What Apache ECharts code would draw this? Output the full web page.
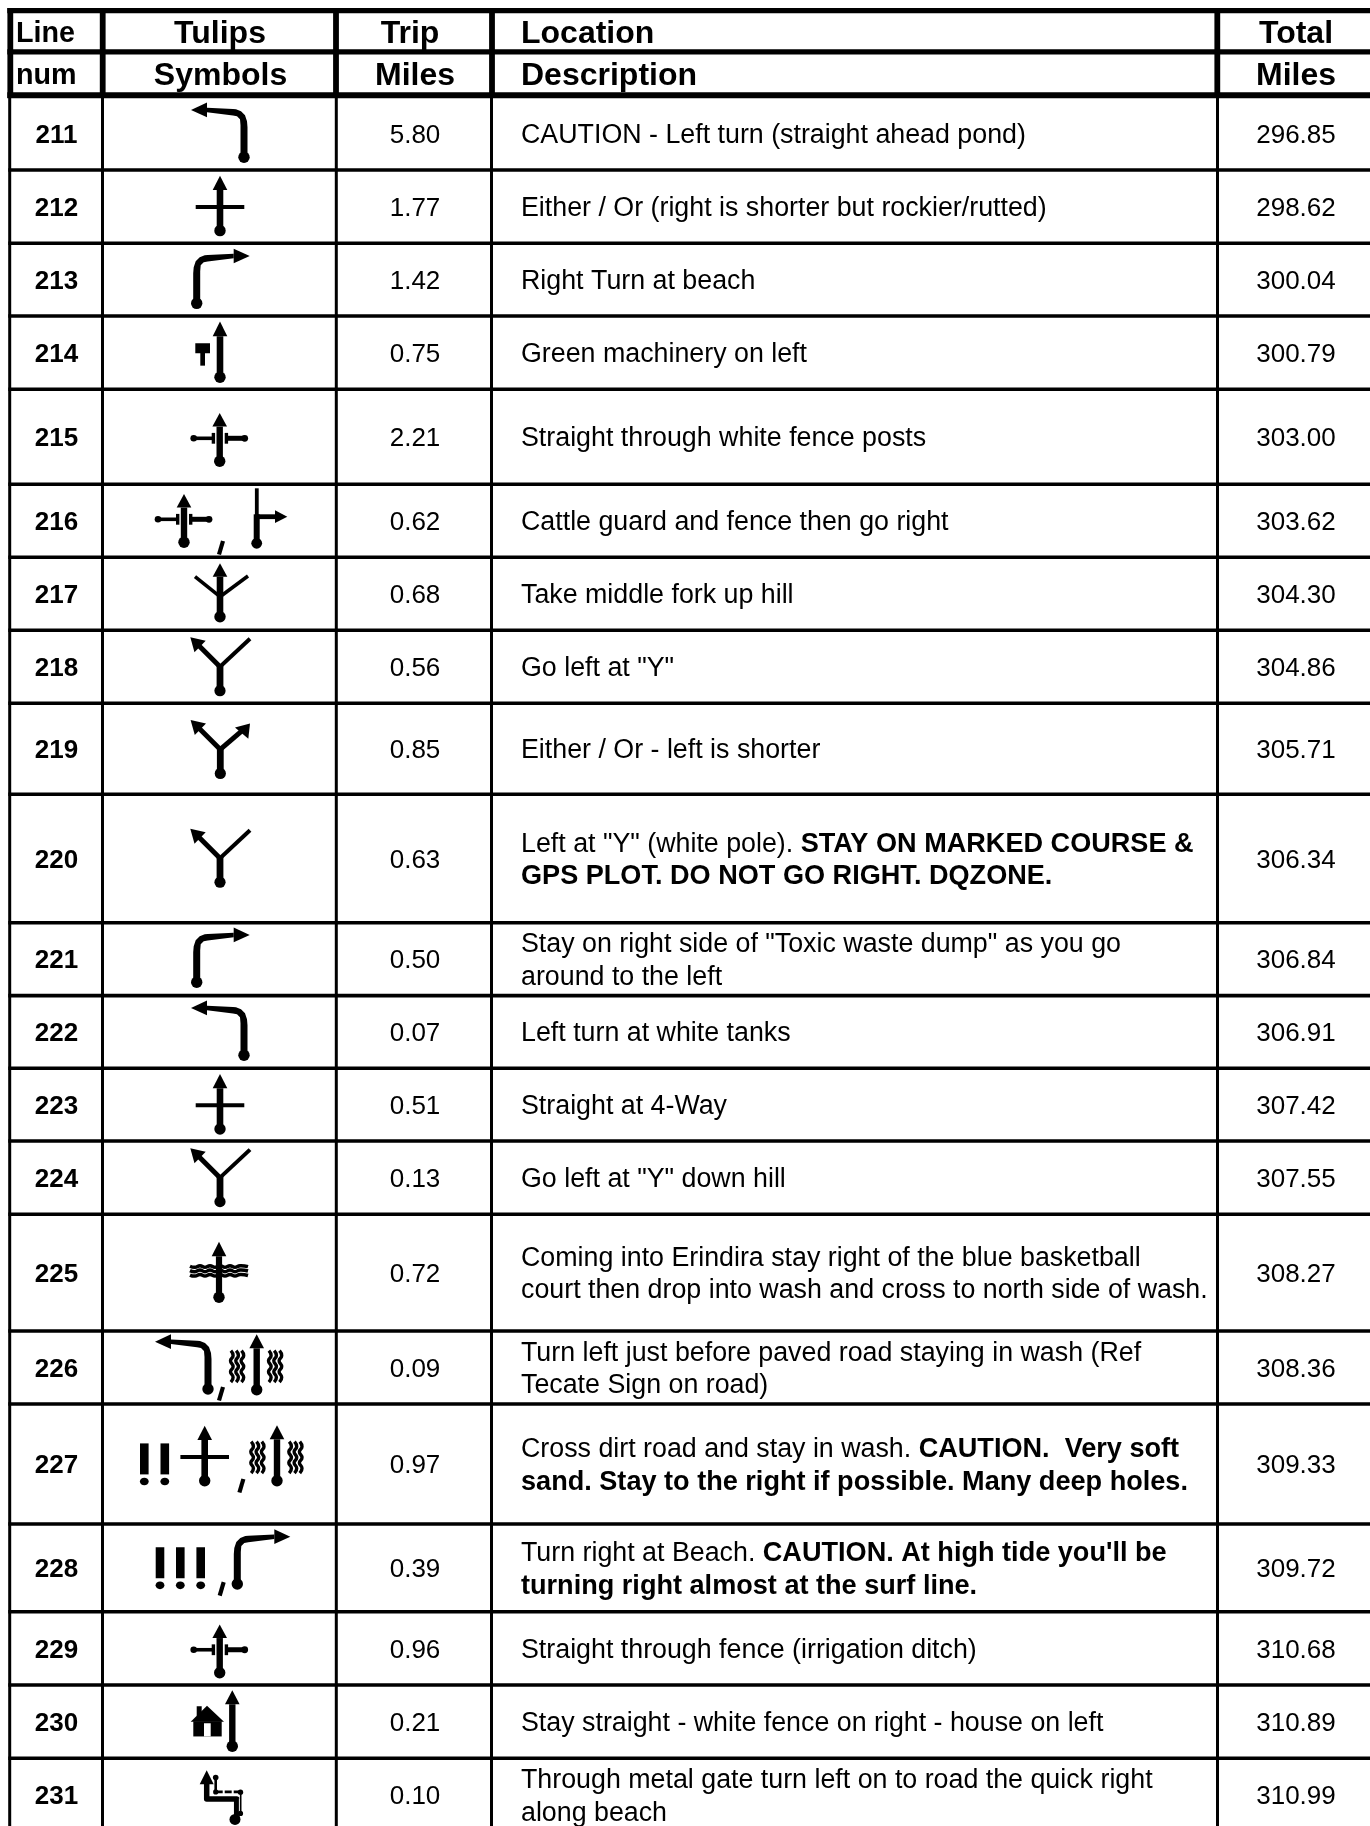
<!DOCTYPE html>
<html>
<head>
<meta charset="utf-8">
<title>Roadbook tulips</title>
<style>
  html, body { margin: 0; padding: 0; background: #fff; }
  #main { width: 1370px; height: 1826px; }
</style>
<script src="https://cdn.jsdelivr.net/npm/echarts@6/dist/echarts.min.js"></script>
</head>
<body>
<div id="main"></div>
<script>
// table content
var headerTop = ['Line', 'Tulips', 'Trip', 'Location', 'Total'];
var headerBottom = ['num', 'Symbols', 'Miles', 'Description', 'Miles'];
var lineNums = ['211', '212', '213', '214', '215', '216', '217', '218', '219', '220', '221',
    '222', '223', '224', '225', '226', '227', '228', '229', '230', '231'];
var tripMiles = ['5.80', '1.77', '1.42', '0.75', '2.21', '0.62', '0.68', '0.56', '0.85', '0.63', '0.50',
    '0.07', '0.51', '0.13', '0.72', '0.09', '0.97', '0.39', '0.96', '0.21', '0.10'];
var totalMiles = ['296.85', '298.62', '300.04', '300.79', '303.00', '303.62', '304.30', '304.86', '305.71', '306.34', '306.84',
    '306.91', '307.42', '307.55', '308.27', '308.36', '309.33', '309.72', '310.68', '310.89', '310.99'];
var descriptions = [
    'CAUTION - Left turn (straight ahead pond)',
    'Either / Or (right is shorter but rockier/rutted)',
    'Right Turn at beach',
    'Green machinery on left',
    'Straight through white fence posts',
    'Cattle guard and fence then go right',
    'Take middle fork up hill',
    'Go left at "Y"',
    'Either / Or - left is shorter',
    'Left at "Y" (white pole). {b|STAY ON MARKED COURSE &}\n{b|GPS PLOT. DO NOT GO RIGHT. DQZONE.}',
    'Stay on right side of "Toxic waste dump" as you go\naround to the left',
    'Left turn at white tanks',
    'Straight at 4-Way',
    'Go left at "Y" down hill',
    'Coming into Erindira stay right of the blue basketball\ncourt then drop into wash and cross to north side of wash.',
    'Turn left just before paved road staying in wash (Ref\nTecate Sign on road)',
    'Cross dirt road and stay in wash. {b|CAUTION.  Very soft}\n{b|sand. Stay to the right if possible. Many deep holes.}',
    'Turn right at Beach. {b|CAUTION. At high tide you\'ll be}\n{b|turning right almost at the surf line.}',
    'Straight through fence (irrigation ditch)',
    'Stay straight - white fence on right - house on left',
    'Through metal gate turn left on to road the quick right\nalong beach'
];
// which tulip glyphs sit in each row
var tulipNames = [
    ['leftTurn'], ['cross'], ['rightTurn'], ['machine'], ['fence'],
    ['fence', 'comma', 'teeRight'], ['threeWay'], ['forkLeft'], ['forkBoth'], ['forkLeft'],
    ['rightTurn'], ['leftTurn'], ['cross'], ['forkLeft'], ['water'],
    ['leftTurn', 'comma', 'wash'], ['bang2', 'cross', 'comma', 'wash'],
    ['bang3', 'comma', 'rightTurn'], ['fence'], ['house'], ['gate']
];

// layout, in page pixels
var pageW = 1370, pageH = 1826;
var rowBottoms = [170, 243.3, 316, 389.3, 484.3, 557.3, 630.3, 703.3, 794.2, 922.7, 995.6,
    1068.3, 1141, 1214.3, 1331, 1404, 1524, 1611.7, 1685, 1758.3, 1832];
var bodyTop = 98;
var bodyColX = [9.7, 102.5, 336.3, 491.5, 1217.5];
var headColX = [10.3, 102.7, 336, 492, 1217.3];
var headRowY = [10.7, 51.8, 95.3];
var headTextX = [16, 220, 410, 521, 1296];
var headBottomX = [16, 220.5, 415, 521, 1296];
var headAlign = ['left', 'center', 'center', 'left', 'center'];
var headSize = [28.7, 32, 32, 32, 32];
// x of each glyph's anchor and its y offset from the row centre
var tulipSpots = [
    [[244, 23.3]], [[220, 24]], [[196.7, 23.7]], [[220, 24.6]], [[219.7, 24.5]],
    [[184, 21.5], [221, 20.2], [256.7, 22.5]], [[220, 22.9]], [[220, 23.9]], [[220.3, 24.7]], [[220, 23.8]],
    [[196.7, 23.1]], [[244, 23.3]], [[220, 24.3]], [[220, 24]], [[219, 24.6]],
    [[208, 21.5], [221, 19.5], [256.7, 22.2]], [[155, 0], [204.7, 16.7], [241.4, 15], [277, 16.7]],
    [[180.3, 0], [221.7, 14.2], [237.3, 16.2]], [[219.7, 24.4]], [[232.3, 24.6]], [[235, 24.3]]
];

// glyph parts, all relative to the anchor (the dot at the foot of the road)
function poly(pts) {
    return { type: 'polygon', shape: { points: pts }, style: { fill: '#000' } };
}
function stroke(pts, w, x, y, smooth) {
    return { type: 'polyline', x: x || 0, y: y || 0, shape: { points: pts, smooth: smooth || 0 },
        style: { fill: null, stroke: '#000', lineWidth: w, lineCap: 'butt', lineJoin: 'round' } };
}
function dot(x, y, r) {
    return { type: 'circle', shape: { cx: x, cy: y, r: r }, style: { fill: '#000' } };
}
function box(x, y, w, h, fill) {
    return { type: 'rect', shape: { x: x, y: y, width: w, height: h }, style: { fill: fill || '#000' } };
}
function upRoad(tipY, baseY, w) {
    return [box(-w / 2, baseY, w, -baseY, '#000'), poly([[0, tipY], [7.3, baseY], [-7.3, baseY]]), dot(0, 0, 5.7)];
}
function turn(s) {
    var outline = [[3.5, 0], [3.5, -30], [3, -36], [1, -42], [-3, -46], [-8, -48], [-11, -48.3], [-37, -49.5],
        [-37, -45], [-11, -41.8], [-7, -41], [-4, -38], [-3.5, -32], [-3.5, 0]];
    var head = [[-53, -47.3], [-37, -54.7], [-37, -40]];
    function flip(p) { return [p[0] * s, p[1]]; }
    return [poly(outline.map(flip)), poly(head.map(flip)), dot(0, 0, 5.7)];
}
function fork(bothArrows) {
    var parts = [box(-3.4, -26, 6.8, 26), dot(0, 0, 5.6),
        stroke([[0, -24], [-21, -45]], 5)];
    parts.push(poly([[-29.7, -53.5], [-14.3, -50], [-25.5, -38.4]]));
    if (bothArrows) {
        parts.push(stroke([[0, -24], [21, -42]], 5));
        parts.push(poly([[29.7, -50], [14.7, -46], [28, -34.7]]));
    } else {
        parts.push(stroke([[0, -24], [30, -52]], 4));
    }
    return parts;
}
function fenceArms() {
    return [
        stroke([[-26, -23], [-7, -23]], 3.6), dot(-26, -23, 3.3), box(-8, -28.4, 3.4, 10.8),
        stroke([[6, -23], [26, -23]], 5), dot(25, -23, 3.4), box(5, -28.4, 3.4, 10.8)
    ];
}
var waveV = [[0, 0], [2.2, 5], [-0.4, 10], [2.2, 16], [-0.4, 21], [2.2, 26.5], [0, 31.5]];
var waveH = [[-29, 0], [-24, 1], [-19, -0.6], [-14, 1], [-9, -0.6], [-4, 1], [1, -0.6], [6, 1], [11, -0.6], [16, 1], [21, -0.6], [29, 0.4]];
function waveBand(x0) {
    return [stroke(waveV, 3.4, x0 + 0.2, -39, 0.5), stroke(waveV, 3.4, x0 + 5.5, -39, 0.5), stroke(waveV, 3.4, x0 + 10.8, -39, 0.5)];
}
function bang(x) {
    return [box(x - 4.3, -20.6, 8.6, 31), { type: 'ellipse', shape: { cx: x, cy: 17.5, rx: 4.4, ry: 3.8 }, style: { fill: '#000' } }];
}
var glyphs = {
    leftTurn: function () { return turn(1); },
    rightTurn: function () { return turn(-1); },
    cross: function () {
        return upRoad(-55, -40.7, 6.6).concat([box(-24.3, -25.7, 48.6, 4)]);
    },
    machine: function () {
        return upRoad(-55.7, -41, 6.6).concat([box(-24.7, -34, 14.7, 10), box(-19.7, -25, 4.7, 13.4)]);
    },
    fence: function () {
        return upRoad(-48.3, -34.7, 6.4).concat(fenceArms());
    },
    comma: function () {
        return [stroke([[2, 0], [-2, 13.5]], 4.2)];
    },
    teeRight: function () {
        return [box(-3, -29, 6, 29), box(-1.8, -55, 3.8, 27), dot(0, 0, 5.4),
            box(0, -29, 18.5, 4.8), poly([[30.6, -26.6], [18.3, -33], [18.3, -20.4]])];
    },
    threeWay: function () {
        return upRoad(-53.4, -40, 6.6).concat([stroke([[-25, -40], [0, -20]], 3.6), stroke([[28, -40.7], [0, -20]], 3.6)]);
    },
    forkLeft: function () { return fork(false); },
    forkBoth: function () { return fork(true); },
    water: function () {
        return [stroke(waveH, 3.5, 0, -31, 0.5), stroke(waveH, 3.5, 0, -26.6, 0.5), stroke(waveH, 3.5, 0, -22.2, 0.5)]
            .concat(upRoad(-55.6, -41, 6.2));
    },
    wash: function () {
        return upRoad(-55.4, -41.4, 6.4).concat(waveBand(-26), waveBand(12));
    },
    bang2: function () {
        return bang(-10.7).concat(bang(9.8));
    },
    bang3: function () {
        return bang(-20.3).concat(bang(0), bang(20.4));
    },
    house: function () {
        return upRoad(-56, -42, 6.4).concat([
            box(-35.6, -40, 5, 10),
            poly([[-25.3, -40.5], [-8.3, -24.5], [-41.6, -24.5]]),
            box(-39, -25, 28.4, 15.2),
            box(-28.3, -23, 6.7, 13.2, '#fff')
        ]);
    },
    gate: function () {
        return [
            poly([[-28.3, -49.3], [-21.3, -35.3], [-35.3, -35.3]]),
            stroke([[-28.3, -36], [-28.3, -20.5], [1.7, -20.5], [1.7, -2]], 5.5),
            dot(0, 0, 5.5),
            dot(-19.3, -42, 2.8), stroke([[-19.3, -42], [-19.3, -27.5]], 2.6), dot(-19.3, -27.5, 2.6),
            { type: 'line', shape: { x1: -19.3, y1: -27.5, x2: 5.5, y2: -27.5 }, style: { stroke: '#000', lineWidth: 2.8, lineDash: [7, 2] } },
            dot(5.5, -27.3, 2.7),
            { type: 'line', shape: { x1: 4.4, y1: -21, x2: 4.4, y2: -4 }, style: { stroke: '#fff', lineWidth: 1 } },
            stroke([[5.7, -27], [5.7, -6]], 1.6), dot(5.5, -6, 2.6)
        ];
    }
};

function rowCenter(i) {
    var top = i === 0 ? bodyTop : rowBottoms[i - 1];
    return (top + rowBottoms[i]) / 2;
}

// rules of the table: [x1, y1, x2, y2]
var ruleData = [];
headRowY.forEach(function (y) { ruleData.push([7.3, y - 2.6, pageW, y + 2.6]); });
ruleData[2] = [7.3, headRowY[2] - 3, pageW, headRowY[2] + 3];
headColX.forEach(function (x) { ruleData.push([x - 2.9, 8, x + 2.9, 98]); });
rowBottoms.forEach(function (y) { ruleData.push([8.3, y - 1.8, pageW, y + 1.8]); });
bodyColX.forEach(function (x) { ruleData.push([x - 1.5, 98, x + 1.5, pageH]); });

var cellFont = 'Liberation Sans, Arial, sans-serif';

function textEl(pos, text, size, bold, align) {
    return {
        type: 'text', x: pos[0], y: pos[1],
        style: {
            text: text, fill: '#000', fontFamily: cellFont, fontSize: size,
            fontWeight: bold ? 'bold' : 'normal', align: align, verticalAlign: 'middle', lineHeight: 32.5,
            rich: { b: { fontFamily: cellFont, fontSize: size + 0.3, fontWeight: 'bold', fill: '#000', lineHeight: 32.5 } }
        }
    };
}

var myChart = echarts.init(document.getElementById('main'));
var option = {
    animation: false,
    backgroundColor: '#fff',
    grid: { left: 0, right: 0, top: 0, bottom: 0 },
    xAxis: { type: 'value', min: 0, max: pageW, show: false },
    yAxis: { type: 'value', min: 0, max: pageH, inverse: true, show: false },
    series: [
        {
            type: 'custom', name: 'rules', silent: true,
            data: ruleData,
            renderItem: function (params, api) {
                var a = api.coord([api.value(0), api.value(1)]);
                var b = api.coord([api.value(2), api.value(3)]);
                return { type: 'rect', shape: { x: a[0], y: a[1], width: b[0] - a[0], height: b[1] - a[1] }, style: { fill: '#000' } };
            }
        },
        {
            type: 'custom', name: 'header', silent: true,
            data: headerTop.map(function (t, i) { return [i]; }),
            renderItem: function (params, api) {
                var i = api.value(0);
                return { type: 'group', children: [
                    textEl(api.coord([headTextX[i], 34]), headerTop[i], headSize[i], true, headAlign[i]),
                    textEl(api.coord([headBottomX[i], 76]), headerBottom[i], headSize[i], true, headAlign[i])
                ] };
            }
        },
        {
            type: 'custom', name: 'rows', silent: true,
            data: lineNums.map(function (t, i) { return [i]; }),
            renderItem: function (params, api) {
                var i = api.value(0);
                var cy = rowCenter(i) + 2;
                return { type: 'group', children: [
                    textEl(api.coord([56.5, cy]), lineNums[i], 26, true, 'center'),
                    textEl(api.coord([415, cy]), tripMiles[i], 26, false, 'center'),
                    textEl(api.coord([521, cy]), descriptions[i], 26.8, false, 'left'),
                    textEl(api.coord([1296, cy]), totalMiles[i], 26, false, 'center')
                ] };
            }
        },
        {
            type: 'custom', name: 'tulips', silent: true,
            data: lineNums.map(function (t, i) { return [i]; }),
            renderItem: function (params, api) {
                var i = api.value(0);
                var cy = rowCenter(i);
                return { type: 'group', children: tulipNames[i].map(function (name, k) {
                    var spot = tulipSpots[i][k];
                    var p = api.coord([spot[0], cy + spot[1]]);
                    return { type: 'group', x: p[0], y: p[1], children: glyphs[name]() };
                }) };
            }
        }
    ]
};
myChart.setOption(option);
</script>
</body>
</html>
